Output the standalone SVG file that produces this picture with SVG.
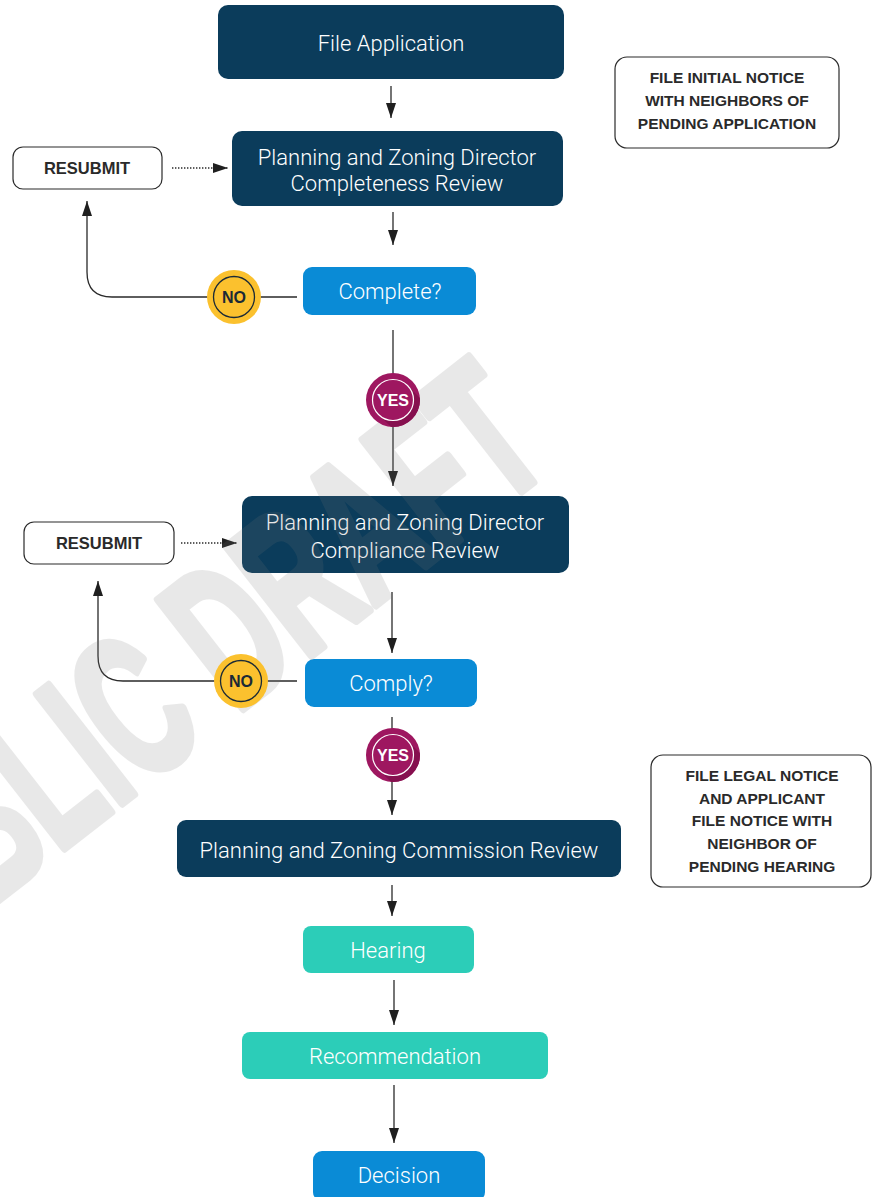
<svg xmlns="http://www.w3.org/2000/svg" width="872" height="1197" viewBox="0 0 872 1197">
<style>
.navy{fill:#0b3c5b}
.blue{fill:#0a8bd6}
.teal{fill:#2ccdb8}
.note{fill:#fff;stroke:#2b2b2b;stroke-width:1.2}
.t{font-family:Roboto,"Liberation Sans",sans-serif;font-weight:300;font-size:22px;fill:#fff;text-anchor:middle}
.nt{font-family:"Liberation Sans",Arial,sans-serif;font-weight:bold;font-size:15.5px;fill:#2a2a2a;text-anchor:middle}
.rs{font-family:"Liberation Sans",Arial,sans-serif;font-weight:bold;font-size:16.5px;fill:#2a2a2a;text-anchor:middle}
.line{fill:none;stroke:#2a2a2a;stroke-width:1.3}
.dot{fill:none;stroke:#2a2a2a;stroke-width:1.4;stroke-dasharray:1.4 1.6}
.no{fill:#fbc12e}
.yes{fill:#9e1760}
.ysh{fill:#86104f}
.nol{font-family:"Liberation Sans",Arial,sans-serif;font-weight:bold;font-size:16px;fill:#1b2a36;text-anchor:middle}
.yesl{font-family:"Liberation Sans",Arial,sans-serif;font-weight:bold;font-size:16px;fill:#fff;text-anchor:middle}
</style>
<defs>
<marker id="ah" viewBox="0 0 15 10" refX="15" refY="5" markerWidth="15" markerHeight="10" orient="auto" markerUnits="userSpaceOnUse">
<path d="M0,0 L15,5 L0,10 z" fill="#1f1f1f"/>
</marker>
<clipPath id="c1"><circle cx="393" cy="400" r="27"/></clipPath>
<clipPath id="c2"><circle cx="393" cy="755" r="27"/></clipPath>
</defs>
<rect width="872" height="1197" fill="#fff"/>

<g id="connectors">
<line class="line" x1="391" y1="86" x2="391" y2="118" marker-end="url(#ah)"/>
<line class="line" x1="393" y1="212" x2="393" y2="245" marker-end="url(#ah)"/>
<path class="line" d="M297,297 L112,297 Q87,297 87,272 L87,201" marker-end="url(#ah)"/>
<line class="dot" x1="172" y1="168" x2="228" y2="168" marker-end="url(#ah)"/>
<line class="line" x1="393" y1="330" x2="393" y2="486" marker-end="url(#ah)"/>
<line class="dot" x1="181" y1="543" x2="237" y2="543" marker-end="url(#ah)"/>
<line class="line" x1="392" y1="592" x2="392" y2="653" marker-end="url(#ah)"/>
<path class="line" d="M297,681 L123,681 Q98,681 98,656 L98,581" marker-end="url(#ah)"/>
<line class="line" x1="392" y1="717" x2="392" y2="815" marker-end="url(#ah)"/>
<line class="line" x1="392" y1="885" x2="392" y2="916" marker-end="url(#ah)"/>
<line class="line" x1="394" y1="980" x2="394" y2="1025" marker-end="url(#ah)"/>
<line class="line" x1="394" y1="1085" x2="394" y2="1143" marker-end="url(#ah)"/>
</g>

<g id="n-file-application">
<rect class="navy" x="218" y="5" width="346" height="74" rx="10"/>
<text class="t" x="391" y="51">File Application</text>
</g>

<g id="n-completeness-review">
<rect class="navy" x="232" y="131" width="331" height="75" rx="10"/>
<text class="t" x="397" y="165">Planning and Zoning Director</text>
<text class="t" x="397" y="191">Completeness Review</text>
</g>

<g id="n-resubmit-1">
<rect class="note" x="13" y="147" width="149" height="42" rx="10"/>
<text class="rs" x="87" y="174">RESUBMIT</text>
</g>

<g id="n-complete">
<rect class="blue" x="303" y="267" width="173" height="48" rx="9"/>
<text class="t" x="390" y="299">Complete?</text>
</g>

<g id="n-compliance-review">
<rect class="navy" x="242" y="496" width="327" height="77" rx="10"/>
<text class="t" x="405" y="530">Planning and Zoning Director</text>
<text class="t" x="405" y="558">Compliance Review</text>
</g>

<g id="n-resubmit-2">
<rect class="note" x="24" y="522" width="150" height="42" rx="10"/>
<text class="rs" x="99" y="549">RESUBMIT</text>
</g>

<g id="n-comply">
<rect class="blue" x="305" y="659" width="172" height="48" rx="9"/>
<text class="t" x="391" y="691">Comply?</text>
</g>

<g id="n-commission-review">
<rect class="navy" x="177" y="820" width="444" height="57" rx="9"/>
<text class="t" x="399" y="858">Planning and Zoning Commission Review</text>
</g>

<g id="n-hearing">
<rect class="teal" x="303" y="926" width="171" height="47" rx="8"/>
<text class="t" x="388" y="958">Hearing</text>
</g>

<g id="n-recommendation">
<rect class="teal" x="242" y="1032" width="306" height="47" rx="8"/>
<text class="t" x="395" y="1064">Recommendation</text>
</g>

<g id="n-decision">
<rect class="blue" x="313" y="1151" width="172" height="50" rx="9"/>
<text class="t" x="399" y="1183">Decision</text>
</g>

<g id="n-note-initial">
<rect class="note" x="615" y="57" width="224" height="91" rx="12"/>
<text class="nt" x="727" y="83">FILE INITIAL NOTICE</text>
<text class="nt" x="727" y="106">WITH NEIGHBORS OF</text>
<text class="nt" x="727" y="129">PENDING APPLICATION</text>
</g>

<g id="n-note-legal">
<rect class="note" x="651" y="755" width="220" height="132" rx="12"/>
<text class="nt" x="762" y="781">FILE LEGAL NOTICE</text>
<text class="nt" x="762" y="804">AND APPLICANT</text>
<text class="nt" x="762" y="826">FILE NOTICE WITH</text>
<text class="nt" x="762" y="849">NEIGHBOR OF</text>
<text class="nt" x="762" y="872">PENDING HEARING</text>
</g>

<g id="watermark" opacity="0.16">
<text transform="translate(556,464) rotate(-38) scale(0.6,1)" x="0" y="0" font-family="'Liberation Sans',Arial,sans-serif" font-weight="bold" font-size="200" fill="#777" stroke="#777" stroke-width="9" stroke-linejoin="round" text-anchor="end">PUBLIC DRAFT</text>
</g>

<g id="n-no-1">
<circle class="no" cx="234" cy="297" r="27"/>
<circle cx="234" cy="297" r="20.5" fill="none" stroke="#1b2a36" stroke-width="1.3"/>
<text class="nol" x="234" y="303">NO</text>
</g>

<g id="n-yes-1">
<circle class="yes" cx="393" cy="400" r="27"/>
<path class="ysh" clip-path="url(#c1)" d="M407.5,385.5 L437.5,415.5 L408.5,444.5 L378.5,414.5 z"/>
<circle class="yes" cx="393" cy="400" r="20.5"/>
<circle cx="393" cy="400" r="20.5" fill="none" stroke="#fff" stroke-width="1.2"/>
<text class="yesl" x="393" y="406">YES</text>
</g>

<g id="n-no-2">
<circle class="no" cx="241" cy="681" r="27"/>
<circle cx="241" cy="681" r="20.5" fill="none" stroke="#1b2a36" stroke-width="1.3"/>
<text class="nol" x="241" y="687">NO</text>
</g>

<g id="n-yes-2">
<circle class="yes" cx="393" cy="755" r="27"/>
<path class="ysh" clip-path="url(#c2)" d="M407.5,740.5 L437.5,770.5 L408.5,799.5 L378.5,769.5 z"/>
<circle class="yes" cx="393" cy="755" r="20.5"/>
<circle cx="393" cy="755" r="20.5" fill="none" stroke="#fff" stroke-width="1.2"/>
<text class="yesl" x="393" y="761">YES</text>
</g>
</svg>
